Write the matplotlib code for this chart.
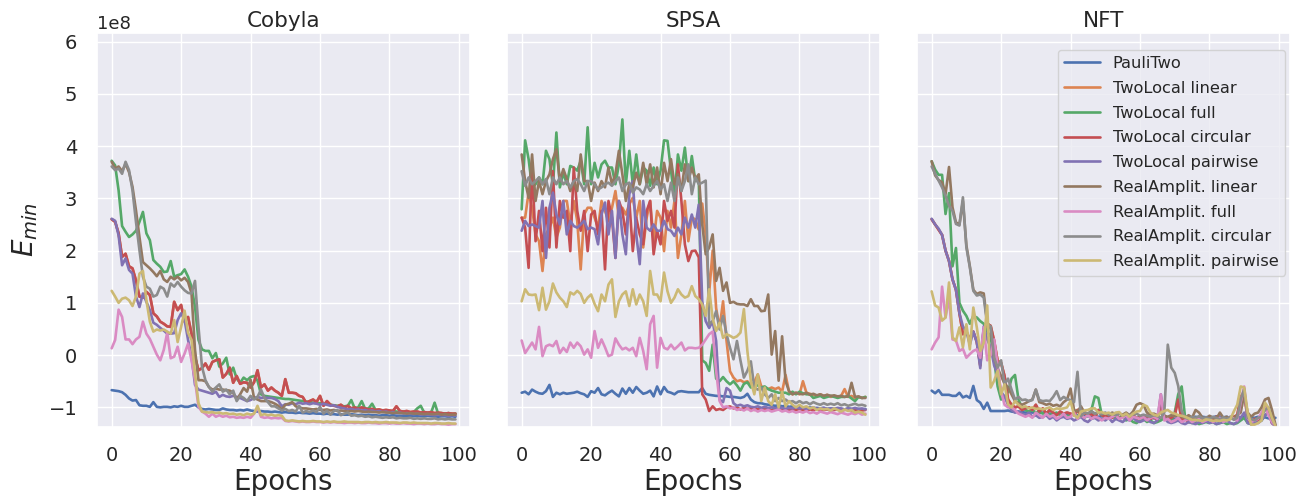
import matplotlib
matplotlib.use("Agg")
import matplotlib.pyplot as plt
import seaborn as sns
import numpy as np

# ---------------- data (values in units of 1e8) ----------------
SCALE = 1e8
epochs = list(range(100))
panels = ["Cobyla", "SPSA", "NFT"]
labels = ["PauliTwo", "TwoLocal linear", "TwoLocal full", "TwoLocal circular",
          "TwoLocal pairwise", "RealAmplit. linear", "RealAmplit. full",
          "RealAmplit. circular", "RealAmplit. pairwise"]
x_ticks = [0, 20, 40, 60, 80, 100]
y_ticks = [-1, 0, 1, 2, 3, 4, 5, 6]

# ---- Cobyla ----
blue_c = [-0.67,-0.68,-0.69,-0.71,-0.76,-0.83,-0.87,-0.86,-0.96,-0.97,
          -0.97,-0.99,-0.90,-0.99,-1.00,-0.99,-0.99,-1.00,-0.98,-0.99,
          -0.97,-0.99,-0.99,-0.97,-0.95,-1.00,-1.03,-1.04,-1.03,-1.04,
          -1.05,-1.05,-1.02,-1.04,-1.05,-1.05,-1.06,-1.05,-1.06,-1.04,
          -1.06,-1.07,-1.08,-1.07,-1.08,-1.08,-1.09,-1.08,-1.09,-1.10,
          -1.09,-1.10,-1.10,-1.11,-1.10,-1.11,-1.11,-1.12,-1.11,-1.12,
          -1.12,-1.13,-1.12,-1.13,-1.13,-1.14,-1.13,-1.14,-1.14,-1.13,
          -1.14,-1.15,-1.14,-1.15,-1.14,-1.15,-1.15,-1.16,-1.15,-1.15,
          -1.16,-1.15,-1.16,-1.16,-1.17,-1.16,-1.16,-1.17,-1.16,-1.17,
          -1.17,-1.16,-1.17,-1.17,-1.18,-1.17,-1.17,-1.18,-1.17,-1.18]
red_c = [2.60,2.55,2.33,1.88,1.94,1.70,1.66,1.43,1.12,1.10,
         1.21,1.15,0.80,0.74,0.64,0.60,0.55,0.54,1.02,0.86,
         0.96,0.64,0.73,0.41,-0.03,-0.29,-0.25,-0.16,-0.28,-0.13,
         -0.10,-0.08,-0.43,-0.36,-0.24,-0.53,-0.40,-0.55,-0.52,-0.53,
         -0.62,-0.52,-0.29,-0.62,-0.56,-0.68,-0.62,-0.68,-0.72,-0.78,
         -0.46,-0.72,-0.72,-0.73,-0.78,-0.80,-0.91,-0.88,-0.85,-0.90,
         -0.78,-0.97,-0.88,-0.95,-0.97,-0.98,-0.95,-1.00,-0.97,-1.02,
         -1.00,-1.03,-1.00,-1.02,-1.04,-1.03,-1.05,-1.04,-1.06,-1.05,
         -1.06,-1.07,-0.98,-1.07,-1.08,-1.07,-1.09,-1.08,-1.08,-1.10,
         -1.09,-1.10,-1.09,-1.11,-1.10,-1.11,-1.12,-1.11,-1.12,-1.12]
orange_c = list(red_c)  # hidden beneath TwoLocal circular in the reference
purple_c = [2.61,2.57,2.29,1.72,1.85,1.63,1.56,1.12,0.92,1.18,
            1.02,0.86,0.62,0.58,0.52,0.47,0.41,0.41,0.42,0.67,
            0.80,0.67,0.29,-0.03,-0.57,-0.66,-0.68,-0.70,-0.72,-0.74,
            -0.70,-0.80,-0.76,-0.79,-0.80,-0.78,-0.80,-0.82,-0.85,-0.88,
            -0.86,-0.82,-0.80,-0.82,-0.81,-0.82,-0.82,-0.84,-0.88,-0.98,
            -0.94,-0.95,-0.92,-0.94,-0.91,-0.93,-0.92,-0.94,-0.92,-0.93,
            -0.95,-0.93,-0.95,-0.97,-0.96,-0.99,-1.01,-1.02,-1.04,-1.03,
            -1.05,-1.04,-1.06,-1.05,-1.07,-1.06,-1.08,-1.07,-1.09,-1.08,
            -1.10,-1.09,-1.11,-1.10,-1.12,-1.11,-1.12,-1.13,-1.12,-1.14,
            -1.13,-1.14,-1.14,-1.15,-1.14,-1.15,-1.15,-1.16,-1.15,-1.16]
brown_c = [3.70,3.57,3.61,3.52,3.66,3.50,3.22,2.77,2.26,1.78,
           1.72,1.66,1.59,1.51,1.61,1.45,1.40,1.50,1.45,1.50,
           1.43,1.48,1.40,1.18,0.10,-0.48,-0.48,-0.50,-0.61,-0.66,
           -0.64,-0.66,-0.66,-0.67,-0.68,-0.72,-0.85,-0.75,-0.63,-0.70,
           -0.47,-0.82,-0.85,-0.88,-0.88,-0.88,-0.90,-0.93,-0.97,-1.04,
           -0.95,-0.93,-0.90,-0.98,-1.00,-1.02,-1.02,-1.03,-1.04,-1.03,
           -1.05,-1.05,-1.04,-1.06,-1.05,-1.07,-1.06,-1.07,-1.08,-1.07,
           -1.08,-1.07,-1.08,-1.09,-1.08,-1.09,-1.09,-1.10,-1.09,-1.10,
           -1.10,-1.11,-1.10,-1.11,-1.11,-1.12,-1.11,-1.12,-1.12,-1.12,
           -1.13,-1.12,-1.13,-1.13,-1.12,-1.14,-1.13,-1.14,-1.14,-1.14]
gray_c = [3.61,3.54,3.57,3.47,3.70,3.54,3.15,2.55,2.01,1.50,
          1.31,1.27,1.12,1.15,1.31,1.27,1.12,1.37,1.31,1.40,
          1.31,1.24,1.19,1.18,1.42,0.54,-0.22,-0.48,-0.61,-0.70,
          -0.62,-0.56,-0.70,-0.66,-0.75,-0.68,-0.88,-0.78,-0.82,-0.88,
          -0.78,-0.85,-0.80,-0.66,-0.82,-0.90,-0.98,-0.98,-1.02,-1.06,
          -1.03,-1.07,-1.05,-1.08,-0.97,-1.10,-1.07,-1.09,-1.06,-1.09,
          -0.99,-1.12,-1.06,-1.14,-1.07,-1.05,-1.15,-1.12,-1.10,-1.16,
          -1.15,-1.17,-1.16,-1.18,-1.17,-1.19,-1.18,-1.19,-1.20,-1.19,
          -1.20,-1.19,-1.21,-1.20,-1.21,-1.21,-1.20,-1.22,-1.21,-1.22,
          -1.21,-1.22,-1.22,-1.21,-1.23,-1.22,-1.23,-1.22,-1.23,-1.23]
green_c = [3.72,3.63,3.15,2.47,2.36,2.26,2.31,2.38,2.55,2.74,
           2.33,2.20,1.82,1.75,1.69,1.59,1.60,1.80,1.50,1.53,
           1.55,1.64,1.50,1.31,0.92,0.29,0.11,0.08,0.08,-0.06,
           0.04,-0.22,-0.16,-0.05,-0.37,-0.24,-0.45,-0.53,-0.43,-0.48,
           -0.42,-0.40,-0.49,-0.75,-0.78,-0.79,-0.80,-0.81,-0.82,-0.83,
           -0.84,-0.84,-0.85,-0.86,-0.87,-0.88,-0.89,-0.90,-0.91,-0.92,
           -0.92,-0.93,-0.94,-0.95,-0.96,-0.97,-0.97,-0.98,-0.97,-0.86,
           -1.02,-1.00,-0.88,-1.03,-1.02,-0.93,-1.05,-1.06,-1.07,-1.08,
           -1.08,-1.07,-1.08,-1.09,-1.08,-1.09,-1.10,-1.09,-1.02,-0.97,
           -1.10,-1.11,-1.10,-0.91,-1.12,-1.11,-1.12,-1.11,-1.13,-1.12]
yellow_c = [1.23,1.12,1.00,1.08,1.10,1.05,0.94,1.12,1.56,1.61,
            1.05,0.64,0.45,0.49,0.47,0.49,0.45,0.41,0.67,0.25,
            0.54,0.85,0.43,0.29,-0.35,-0.92,-1.08,-1.09,-1.10,-1.09,
            -1.11,-1.10,-1.12,-1.11,-1.13,-1.12,-1.14,-1.13,-1.15,-1.12,
            -1.14,-1.12,-0.97,-1.15,-1.13,-1.15,-1.14,-1.16,-1.15,-1.16,
            -1.25,-1.26,-1.25,-1.26,-1.27,-1.26,-1.27,-1.27,-1.26,-1.27,
            -1.27,-1.28,-1.27,-1.28,-1.27,-1.28,-1.28,-1.27,-1.28,-1.28,
            -1.28,-1.28,-1.29,-1.28,-1.28,-1.29,-1.28,-1.29,-1.29,-1.28,
            -1.29,-1.29,-1.29,-1.30,-1.29,-1.29,-1.30,-1.29,-1.30,-1.30,
            -1.30,-1.30,-1.31,-1.30,-1.30,-1.31,-1.31,-1.30,-1.31,-1.31]
pink_c = [0.13,0.29,0.87,0.73,0.30,0.30,0.21,0.30,0.35,0.64,
          0.41,0.31,0.16,0.01,-0.10,0.10,0.43,-0.06,-0.03,0.16,
          -0.13,0.03,0.22,-0.10,-0.48,-0.99,-1.08,-1.12,-1.18,-1.12,
          -1.18,-1.15,-1.18,-1.16,-1.19,-1.18,-1.20,-1.19,-1.20,-1.18,
          -1.20,-1.12,-1.00,-1.18,-1.20,-1.19,-1.21,-1.20,-1.21,-1.20,
          -1.26,-1.27,-1.26,-1.27,-1.28,-1.27,-1.28,-1.28,-1.27,-1.28,
          -1.28,-1.29,-1.28,-1.29,-1.28,-1.29,-1.29,-1.30,-1.29,-1.29,
          -1.30,-1.29,-1.30,-1.30,-1.29,-1.30,-1.30,-1.31,-1.30,-1.30,
          -1.31,-1.30,-1.31,-1.31,-1.30,-1.31,-1.31,-1.32,-1.31,-1.31,
          -1.32,-1.31,-1.32,-1.32,-1.31,-1.32,-1.32,-1.33,-1.32,-1.32]

# ---- SPSA ----
blue_s = [-0.72,-0.70,-0.75,-0.66,-0.70,-0.73,-0.74,-0.69,-0.57,-0.80,
          -0.72,-0.75,-0.72,-0.74,-0.73,-0.72,-0.70,-0.73,-0.75,-0.80,
          -0.69,-0.72,-0.63,-0.75,-0.77,-0.72,-0.68,-0.74,-0.79,-0.64,
          -0.74,-0.63,-0.72,-0.61,-0.68,-0.74,-0.72,-0.68,-0.79,-0.60,
          -0.75,-0.61,-0.70,-0.72,-0.75,-0.70,-0.69,-0.70,-0.71,-0.71,
          -0.71,-0.71,-0.63,-0.74,-0.76,-0.77,-0.78,-0.78,-0.79,-0.79,
          -0.80,-0.80,-0.81,-0.82,-0.80,-0.74,-0.85,-0.90,-0.92,-0.92,
          -0.94,-0.95,-0.96,-0.97,-0.96,-0.98,-0.97,-0.99,-0.98,-1.00,
          -0.99,-1.00,-1.01,-1.00,-1.02,-1.01,-1.02,-1.01,-1.03,-1.02,
          -1.03,-1.02,-1.03,-1.04,-1.02,-1.03,-1.04,-1.03,-1.04,-1.03]
orange_s = [2.63,2.63,3.11,2.82,2.31,2.18,1.61,2.31,2.44,2.63,
            2.25,2.44,2.95,2.95,2.50,2.95,2.57,1.64,2.69,2.82,
            2.82,2.63,2.44,2.95,2.76,2.57,2.82,3.14,2.63,2.82,
            2.69,2.89,3.01,2.63,2.95,2.06,2.63,2.95,2.18,2.76,
            2.63,1.99,2.76,2.44,2.95,1.86,2.31,2.95,2.18,2.63,
            2.60,2.40,2.90,2.30,1.20,2.00,0.90,0.52,1.03,0.27,
            -0.31,-0.43,-0.50,-0.48,-0.52,-0.50,-0.58,-0.52,-0.37,-0.60,
            -0.62,-0.65,-0.62,-0.65,-0.62,-0.70,-0.38,-0.70,-0.75,-0.72,
            -0.75,-0.50,-0.72,-0.74,-0.76,-0.78,-0.75,-0.78,-0.76,-0.80,
            -0.78,-0.80,-0.78,-0.65,-0.80,-0.78,-0.82,-0.80,-0.82,-0.80]
green_s = [2.79,4.11,3.75,3.21,3.27,3.40,3.27,3.91,3.75,3.24,
           4.26,3.21,3.49,3.27,3.62,3.59,3.53,3.72,3.27,4.36,
           3.27,3.68,3.40,3.65,3.72,3.59,3.59,3.27,3.65,4.51,
           3.27,3.91,3.27,3.84,3.27,3.59,3.53,3.24,3.59,3.27,
           3.53,4.11,4.10,3.53,3.01,3.84,3.53,3.97,3.33,3.81,
           3.33,3.40,-0.10,-0.15,-0.30,0.20,-0.45,-0.50,-0.42,-0.50,
           -0.56,-0.50,-0.58,-0.68,-0.55,-0.52,-0.62,-0.56,-0.58,-0.62,
           -0.60,-0.65,-0.68,-0.70,-0.72,-0.72,-0.72,-0.75,-0.70,-0.75,
           -0.70,-0.73,-0.75,-0.75,-0.82,-0.80,-0.78,-0.82,-0.80,-0.78,
           -0.80,-0.82,-0.80,-0.80,-0.78,-0.83,-0.88,-0.80,-0.82,-0.80]
red_s = [2.63,2.44,1.67,3.62,2.18,2.76,1.99,2.82,2.06,3.52,
         2.06,2.95,2.63,2.76,1.99,3.59,2.76,2.38,2.76,1.99,
         2.69,2.76,2.31,2.76,1.64,2.95,2.63,1.86,2.95,2.76,
         2.31,2.95,1.99,2.63,2.31,2.12,2.76,2.95,1.93,2.38,
         2.12,2.95,2.57,2.76,2.44,3.65,2.95,2.12,1.80,1.99,
         2.00,1.87,-0.75,-0.85,-1.07,-0.98,-1.05,-1.03,-1.05,-1.00,
         -0.98,-1.02,-1.00,-1.04,-1.01,-1.03,-1.02,-1.05,-1.03,-1.02,
         -1.04,-1.03,-1.05,-1.02,-1.04,-1.05,-1.03,-1.06,-1.04,-1.05,
         -1.03,-1.05,-1.06,-1.04,-1.05,-1.03,-1.06,-1.05,-1.04,-1.06,
         -1.05,-1.04,-1.06,-1.05,-1.03,-1.06,-1.05,-1.04,-1.06,-1.05]
purple_s = [2.38,2.57,2.47,2.50,2.47,2.44,2.95,1.86,2.82,3.11,
            2.69,2.50,2.95,2.31,2.57,2.47,2.44,2.50,2.57,2.41,
            2.44,2.41,2.12,2.69,2.92,2.31,2.76,1.86,2.95,2.31,
            1.93,3.08,3.33,2.31,1.74,2.95,2.44,2.38,2.50,2.38,
            2.38,2.57,2.41,2.38,2.28,2.44,2.31,2.63,2.44,2.69,
            2.44,2.88,1.03,0.65,0.52,0.65,0.27,-0.85,-0.90,-0.63,
            -0.68,-0.92,-0.97,-0.95,-0.98,-0.96,-0.99,-1.00,-0.98,-1.01,
            -0.99,-1.01,-1.00,-1.02,-1.00,-1.01,-1.03,-1.01,-1.02,-1.00,
            -1.02,-1.01,-1.03,-1.02,-1.00,-1.03,-1.02,-1.01,-1.03,-1.02,
            -1.03,-1.01,-1.02,-1.04,-1.02,-1.03,-1.01,-1.03,-1.02,-1.04]
brown_s = [3.84,3.33,3.01,3.84,2.95,3.33,3.08,3.33,3.46,3.75,
           3.94,3.33,3.56,3.37,3.14,3.33,3.14,3.84,3.33,3.33,
           2.95,3.30,3.14,3.33,3.21,3.59,3.27,3.46,3.91,3.46,
           2.95,3.27,3.21,3.49,3.27,3.68,3.27,3.65,3.21,3.59,
           3.08,3.68,3.33,3.75,3.27,3.46,3.14,3.65,3.33,3.59,
           3.37,3.46,2.50,1.93,2.06,2.31,1.42,1.67,1.23,1.39,
           1.00,1.02,0.98,0.97,0.97,0.94,1.07,0.94,0.94,0.84,
           0.85,1.16,0.01,0.46,-0.49,0.36,-0.50,-0.69,-0.75,-0.72,
           -0.74,-0.75,-0.72,-0.76,-0.74,-0.77,-0.75,-0.78,-0.76,-0.78,
           -0.77,-0.79,-0.78,-0.80,-0.79,-0.53,-0.80,-0.79,-0.82,-0.82]
pink_s = [0.28,0.04,0.14,0.24,0.11,0.54,-0.02,0.17,0.20,0.17,
          0.27,0.04,0.14,0.06,0.24,0.14,0.24,0.17,0.01,0.11,
          -0.05,0.46,0.14,0.30,0.15,-0.02,0.01,0.32,0.20,0.11,
          0.14,0.09,0.14,-0.02,0.33,0.08,-0.27,0.59,0.75,-0.24,
          0.33,0.14,0.11,0.20,0.11,0.17,0.24,0.09,0.14,0.14,
          0.13,0.14,0.20,0.30,0.40,0.45,-0.30,-0.88,-1.00,-0.98,
          -1.02,-1.00,-1.05,-1.03,-1.06,-1.02,-1.07,-1.04,-1.08,-1.05,
          -1.07,-1.05,-1.08,-1.06,-1.04,-1.08,-1.06,-1.09,-1.07,-1.10,
          -1.08,-1.10,-1.07,-1.11,-1.09,-1.12,-1.08,-1.10,-1.12,-1.09,
          -1.11,-1.13,-1.10,-1.12,-1.14,-1.11,-1.13,-1.10,-1.14,-1.12]
gray_s = [3.52,3.24,3.40,3.27,3.33,3.40,3.27,3.37,3.08,3.40,
          3.27,3.40,3.27,3.33,3.21,3.33,3.37,3.27,3.14,3.33,
          3.33,3.27,3.17,3.21,3.27,3.30,3.24,3.33,3.40,3.14,
          3.27,3.30,3.11,3.21,3.17,3.08,3.27,3.14,3.24,3.33,
          3.17,3.27,2.95,3.30,2.95,3.40,3.14,3.33,3.65,3.08,
          3.40,3.27,3.30,3.34,0.59,0.65,0.84,0.49,0.75,0.40,
          0.14,-0.08,0.27,-0.10,-0.43,-0.30,-0.12,-0.62,-0.66,-0.62,
          -0.75,-0.82,-0.75,-0.88,-0.82,-0.88,-0.85,-0.90,-0.88,-0.92,
          -0.88,-0.92,-0.90,-0.94,-0.90,-0.93,-0.95,-0.92,-0.95,-0.93,
          -0.95,-0.92,-0.96,-0.94,-0.97,-0.95,-0.93,-0.96,-0.95,-0.97]
yellow_s = [1.03,1.26,1.16,1.15,1.16,0.86,1.29,0.87,1.03,1.37,
            1.20,1.10,1.03,0.92,1.20,1.16,1.23,1.17,1.00,1.10,
            1.16,0.98,0.84,1.16,1.03,1.35,1.45,0.73,1.03,1.16,
            1.22,0.94,1.26,0.97,1.16,1.03,0.75,1.61,1.16,1.16,
            1.03,1.58,1.22,1.00,1.10,1.26,1.16,1.10,1.13,1.32,
            1.13,1.07,0.97,0.75,1.26,0.70,0.46,0.62,0.33,0.40,
            0.37,0.33,0.36,0.43,0.88,0.08,-0.50,-0.75,-0.37,-0.88,
            -0.62,-0.88,-0.95,-0.75,-1.00,-0.70,-0.98,-0.88,-0.95,-1.00,
            -0.95,-1.00,-0.98,-1.02,-1.00,-1.05,-1.02,-1.04,-1.03,-1.06,
            -1.02,-1.05,-1.08,-1.04,-1.07,-1.05,-1.10,-1.08,-1.10,-1.14]

# ---- NFT ----
blue_n = [-0.68,-0.73,-0.67,-0.76,-0.76,-0.76,-0.78,-0.78,-0.72,-0.81,
          -0.78,-0.82,-0.59,-0.86,-0.91,-1.03,-0.91,-1.07,-1.07,-1.07,
          -1.07,-1.07,-1.06,-1.08,-1.09,-1.08,-1.09,-1.10,-1.09,-1.10,
          -1.10,-1.11,-1.10,-1.11,-1.12,-1.11,-1.12,-1.12,-1.13,-1.12,
          -1.13,-1.14,-1.15,-1.16,-1.17,-1.17,-1.18,-1.17,-1.18,-1.17,
          -1.18,-1.19,-1.18,-1.19,-1.20,-1.19,-1.20,-1.19,-1.20,-1.20,
          -1.19,-1.20,-1.21,-1.20,-1.21,-1.20,-1.21,-1.21,-1.20,-1.21,
          -1.22,-1.21,-1.21,-1.20,-1.21,-1.19,-1.18,-1.19,-1.18,-1.19,
          -1.18,-1.19,-1.17,-1.18,-1.19,-1.18,-1.22,-1.20,-1.18,-1.19,
          -1.18,-1.20,-1.19,-1.20,-1.18,-1.20,-1.19,-1.21,-1.20,-1.20]
red_n = [2.60,2.50,2.40,2.30,2.00,1.80,1.45,1.25,0.80,0.40,
         0.45,0.30,0.45,0.25,-0.20,0.50,0.60,0.56,0.27,-0.11,
         -0.15,-0.40,-0.85,-0.95,-1.00,-0.98,-1.05,-1.02,-1.00,-1.05,
         -0.95,-1.08,-1.02,-1.12,-1.05,-1.10,-1.15,-1.08,-1.12,-1.10,
         -1.12,-1.15,-1.05,-1.18,-1.10,-1.15,-1.12,-1.20,-1.05,-1.15,
         -1.18,-1.15,-1.20,-1.12,-1.22,-1.18,-1.15,-1.20,-1.14,-1.22,
         -1.18,-1.20,-1.16,-1.22,-1.18,-1.25,-0.90,-1.18,-1.22,-1.20,
         -1.15,-0.85,-1.25,-1.22,-1.28,-1.20,-1.25,-1.18,-1.22,-1.26,
         -1.20,-1.25,-1.18,-1.28,-1.22,-1.25,-1.20,-1.18,-1.15,-0.80,
         -0.70,-1.25,-1.28,-1.22,-1.25,-1.15,-0.95,-1.05,-1.30,-1.35]
orange_n = list(red_n)  # hidden beneath TwoLocal circular in the reference
green_n = [3.71,3.55,3.45,3.45,2.70,3.10,1.70,2.05,1.00,0.85,
           0.75,0.60,0.75,0.72,0.65,0.60,0.45,0.35,-0.10,-0.60,
           -0.85,-0.80,-0.70,-0.45,-0.38,-0.85,-1.00,-1.05,-1.08,-1.05,
           -1.10,-1.08,-1.12,-1.10,-1.15,-1.12,-1.10,-1.15,-1.12,-1.18,
           -1.15,-1.12,-1.18,-1.15,-1.20,-1.15,-1.05,-0.79,-0.82,-1.15,
           -1.18,-1.20,-1.15,-1.22,-1.20,-1.18,-1.25,-1.22,-1.28,-1.30,
           -1.25,-1.22,-1.28,-1.25,-1.30,-1.28,-1.25,-1.20,-1.22,-1.25,
           -1.10,-0.75,-0.60,-1.20,-1.28,-1.30,-1.28,-1.32,-1.30,-1.28,
           -1.30,-1.28,-1.32,-1.30,-1.28,-1.32,-1.30,-1.32,-1.30,-1.25,
           -1.20,-1.30,-1.32,-1.30,-1.28,-1.25,-1.15,-1.10,-1.28,-1.34]
purple_n = [2.61,2.50,2.42,2.30,2.00,1.80,1.45,1.25,0.80,0.55,
            0.45,0.20,0.45,0.25,-0.25,0.55,0.30,0.15,-0.20,-0.35,
            -0.70,-0.80,-0.95,-1.05,-1.10,-1.08,-1.12,-1.15,-1.10,-1.18,
            -1.15,-1.20,-1.18,-1.15,-1.22,-1.18,-1.25,-1.20,-1.18,-1.22,
            -1.20,-1.25,-1.22,-1.18,-1.25,-1.28,-1.22,-1.20,-1.25,-1.22,
            -1.25,-1.20,-1.28,-1.22,-1.25,-1.28,-1.22,-1.25,-1.20,-1.26,
            -1.28,-1.25,-1.22,-1.28,-1.30,-1.25,-0.75,-1.20,-1.28,-1.30,
            -1.28,-1.25,-1.30,-1.32,-1.28,-1.30,-1.32,-1.28,-1.30,-1.26,
            -1.30,-1.28,-1.32,-1.30,-1.28,-1.25,-1.30,-1.32,-1.28,-1.20,
            -1.10,-1.30,-1.32,-1.28,-1.30,-1.25,-1.15,-1.10,-1.30,-1.36]
brown_n = [3.71,3.44,3.35,3.31,3.08,3.60,2.83,2.54,2.50,2.95,
           2.10,1.70,1.25,1.17,1.20,1.18,0.62,0.50,-0.05,-0.25,
           -0.40,-0.55,-0.62,-0.75,-0.88,-0.92,-0.95,-0.92,-0.88,-0.85,
           -0.66,-0.90,-0.92,-0.95,-0.93,-0.97,-0.95,-0.98,-0.90,-0.85,
           -0.64,-1.05,-1.08,-0.98,-1.10,-1.12,-1.08,-1.12,-1.10,-1.13,
           -1.11,-1.14,-1.10,-1.13,-1.12,-1.14,-1.10,-1.15,-1.08,-0.95,
           -0.92,-0.95,-1.10,-1.14,-1.12,-1.15,-1.10,-1.16,-1.18,-1.15,
           -1.17,-1.15,-1.18,-1.20,-1.15,-1.20,-1.05,-1.10,-1.20,-1.22,
           -1.16,-1.20,-1.22,-1.10,-1.20,-1.18,-1.21,-1.20,-1.15,-1.10,
           -0.75,-1.10,-1.18,-1.12,-1.10,-1.00,-0.85,-0.82,-1.05,-1.33]
pink_n = [0.11,0.24,0.34,1.31,0.72,1.10,0.30,0.28,0.08,0.12,
          -0.05,0.02,0.08,0.11,-0.05,0.53,-0.10,0.00,0.30,-0.20,
          -0.70,-0.95,-1.00,-1.00,-1.05,-1.12,-1.15,-1.18,-1.15,-1.20,
          -1.10,-1.15,-1.20,-1.12,-1.18,-1.15,-1.22,-1.18,-1.12,-1.20,
          -1.18,-1.10,-1.22,-1.15,-1.20,-1.15,-1.22,-1.18,-1.20,-1.25,
          -1.20,-1.22,-1.18,-1.15,-1.22,-1.20,-1.15,-1.25,-1.18,-1.20,
          -1.22,-1.18,-1.25,-1.20,-1.18,-1.22,-0.75,-1.25,-1.22,-1.28,
          -1.25,-1.20,-1.28,-1.25,-1.22,-1.28,-1.25,-1.22,-1.28,-1.25,
          -1.22,-1.28,-1.25,-1.20,-1.28,-1.25,-1.18,-1.22,-1.25,-0.90,
          -0.60,-1.20,-1.28,-1.25,-1.22,-1.10,-1.00,-1.15,-1.28,-1.35]
gray_n = [3.61,3.47,3.34,3.21,3.05,2.86,2.76,2.51,2.48,3.02,
          2.06,1.68,1.23,1.14,1.16,1.10,0.59,0.55,-0.05,-0.24,
          -0.10,-0.56,-0.45,-0.66,-0.85,-0.80,-0.86,-0.85,-0.88,-0.86,
          -0.66,-0.86,-0.88,-0.87,-0.88,-0.80,-0.69,-0.86,-0.80,-0.84,
          -0.86,-0.90,-0.32,-1.17,-1.10,-1.12,-1.08,-1.12,-1.10,-1.13,
          -1.10,-1.14,-1.12,-1.15,-1.12,-1.16,-1.13,-1.15,-1.14,-1.12,
          -1.16,-1.14,-1.16,-1.18,-1.15,-1.17,-1.20,-1.10,0.20,-0.24,
          -0.34,-0.59,-1.07,-1.20,-1.22,-1.18,-1.20,-1.17,-1.21,-1.19,
          -1.22,-1.18,-1.20,-1.23,-1.19,-1.22,-1.18,-1.24,-1.20,-0.85,
          -0.65,-1.20,-1.22,-1.25,-1.20,-1.18,-1.05,-1.00,-1.22,-1.35]
yellow_n = [1.22,0.95,0.91,0.66,0.72,1.39,0.34,0.27,0.53,0.15,
            0.59,0.11,0.91,0.53,0.08,0.24,0.95,-0.62,-0.49,-0.30,
            -0.75,-0.56,-0.94,-1.00,-0.88,-0.95,-1.00,-0.98,-1.02,-1.00,
            -1.03,-1.02,-1.04,-1.02,-1.00,-1.05,-1.02,-1.03,-1.02,-1.00,
            -0.88,-1.15,-1.20,-1.08,-1.06,-1.05,-1.02,-1.02,-1.10,-1.09,
            -1.12,-1.10,-1.14,-1.10,-1.09,-1.16,-1.12,-1.18,-1.12,-1.08,
            -1.07,-0.95,-0.98,-1.10,-1.14,-1.16,-1.10,-1.07,-1.05,-1.10,
            -1.12,-1.15,-1.16,-1.18,-1.21,-1.24,-1.24,-1.25,-1.26,-1.23,
            -1.24,-1.26,-1.25,-1.26,-1.24,-1.25,-1.23,-1.08,-0.95,-0.60,
            -0.62,-1.10,-1.33,-1.33,-1.30,-1.25,-0.91,-1.01,-1.20,-1.36]

series = {
    "Cobyla": [blue_c, orange_c, green_c, red_c, purple_c, brown_c, pink_c, gray_c, yellow_c],
    "SPSA": [blue_s, orange_s, green_s, red_s, purple_s, brown_s, pink_s, gray_s, yellow_s],
    "NFT": [blue_n, orange_n, green_n, red_n, purple_n, brown_n, pink_n, gray_n, yellow_n],
}

# ---------------- plotting ----------------
sns.set_theme(style="darkgrid")
plt.rcParams["font.family"] = ["DejaVu Sans"]
colors = sns.color_palette("deep", 9)

fig, axes = plt.subplots(1, 3, figsize=(13.02, 5), dpi=100, sharey=True)
fig.subplots_adjust(left=0.0743, right=0.9908, bottom=0.1466, top=0.9346, wspace=0.0983)

x = np.array(epochs)
for ax, name in zip(axes, panels):
    for vals, lab, col in zip(series[name], labels, colors):
        ax.plot(x, np.array(vals) * SCALE, color=col, lw=1.9, label=lab)
    ax.set_title(name, fontsize=15.5, pad=4)
    ax.set_xlabel("Epochs", fontsize=20, labelpad=2)
    ax.set_xlim(-4.3, 103.2)
    ax.set_xticks(x_ticks)
    ax.tick_params(labelsize=14, pad=8)

axes[0].set_ylim(-1.37 * SCALE, 6.17 * SCALE)
axes[0].set_yticks([t * SCALE for t in y_ticks])
axes[0].set_ylabel("$E_{min}$", fontsize=20, labelpad=6)
axes[0].yaxis.get_offset_text().set_fontsize(13)

axes[2].legend(loc="upper right", fontsize=11.7, framealpha=0.8,
               bbox_to_anchor=(0.9866, 0.957), borderaxespad=0,
               labelspacing=0.6, handlelength=2.2)

fig.savefig("out.png", dpi=100)
